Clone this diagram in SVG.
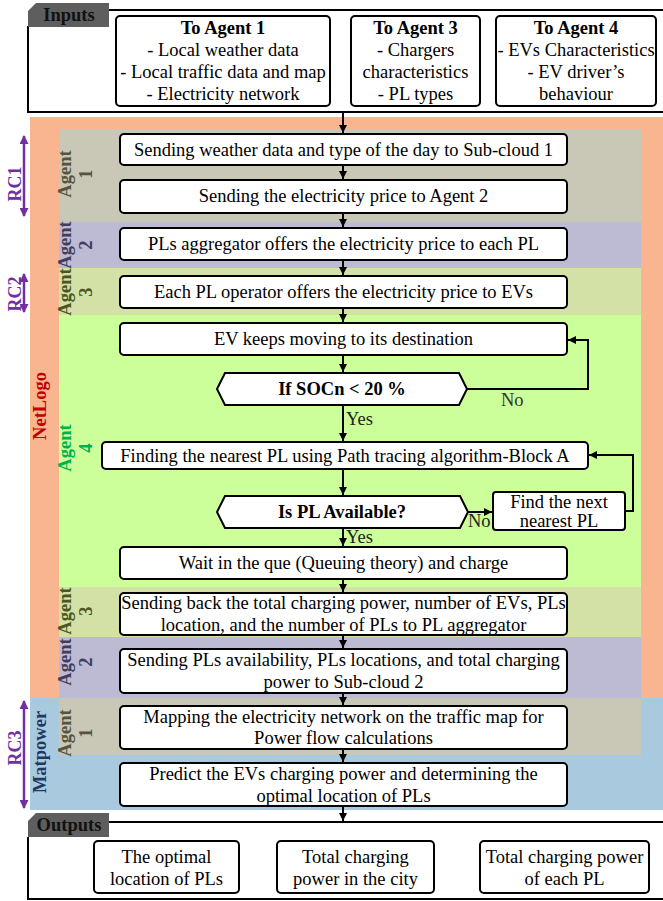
<svg xmlns="http://www.w3.org/2000/svg" width="663" height="901" viewBox="0 0 663 901">
<defs>
<style>
text{font-family:"Liberation Serif","Times New Roman",serif;font-size:18.5px;fill:#000;}
.c{text-anchor:middle;dominant-baseline:central;}
.b{font-weight:bold;}
.box{fill:#fff;stroke:#000;stroke-width:2;}
.frame{fill:none;stroke:#000;stroke-width:2;}
.tab{fill:#5e5e5e;}
.lbl{font-weight:bold;font-size:18.5px;text-anchor:middle;dominant-baseline:central;}
.rc{font-weight:bold;font-size:18px;fill:#7030a0;text-anchor:middle;dominant-baseline:central;}
.rca{stroke:#7030a0;stroke-width:2.5;fill:none;marker-start:url(#pa);marker-end:url(#pa);}
.con{fill:none;stroke:#000;stroke-width:2;marker-end:url(#ah);}
</style>
<marker id="ah" viewBox="0 0 10 10" refX="10" refY="5" markerWidth="4" markerHeight="4" orient="auto" markerUnits="strokeWidth">
<path d="M0,0 L10,5 L0,10 z" fill="#000"/>
</marker>
<marker id="pa" viewBox="0 0 10 10" refX="9" refY="5" markerWidth="4" markerHeight="3.6" orient="auto-start-reverse" markerUnits="strokeWidth">
<path d="M0,0 L10,5 L0,10 z" fill="#7030a0"/>
</marker>
</defs>
<rect x="0" y="0" width="663" height="901" fill="#fff"/>

<g id="regions">
<rect x="30" y="117" width="633" height="581" fill="#f9b58f"/>
<rect x="30" y="698" width="633" height="112" fill="#a9cade"/>
<rect x="59" y="129" width="582" height="93" fill="#c9c7b5"/>
<rect x="59" y="222" width="582" height="46" fill="#bdbad4"/>
<rect x="59" y="268" width="582" height="47" fill="#d3e0a6"/>
<rect x="59" y="315" width="582" height="272" fill="#ccff99"/>
<rect x="59" y="587" width="582" height="50" fill="#d3e0a6"/>
<rect x="59" y="637" width="582" height="61" fill="#bdbad4"/>
<rect x="59" y="698" width="582" height="57" fill="#c9c7b5"/>
</g>

<g id="side-labels">
<line class="rca" x1="24" y1="136" x2="24" y2="216"/>
<text class="rc" transform="translate(15,184) rotate(-90)">RC1</text>
<line class="rca" x1="24" y1="274" x2="24" y2="312"/>
<text class="rc" transform="translate(15,294) rotate(-90)">RC2</text>
<line class="rca" x1="24" y1="701" x2="24" y2="808"/>
<text class="rc" transform="translate(15,748) rotate(-90)">RC3</text>
<text class="lbl" style="fill:#c00000" transform="translate(40,406) rotate(-90)">NetLogo</text>
<text class="lbl" style="fill:#1f3864" transform="translate(40,752) rotate(-90)">Matpower</text>
<g id="agent1a-label" transform="translate(65,174) rotate(-90)"><text class="lbl" style="fill:#55543f">Agent</text><text class="lbl" y="21" style="fill:#55543f">1</text></g>
<g id="agent2a-label" transform="translate(65,245) rotate(-90)"><text class="lbl" style="fill:#413e5c">Agent</text><text class="lbl" y="21" style="fill:#413e5c">2</text></g>
<g id="agent3a-label" transform="translate(65,292) rotate(-90)"><text class="lbl" style="fill:#4b5722">Agent</text><text class="lbl" y="21" style="fill:#4b5722">3</text></g>
<g id="agent4-label" transform="translate(65,448) rotate(-90)"><text class="lbl" style="fill:#00b050">Agent</text><text class="lbl" y="21" style="fill:#00b050">4</text></g>
<g id="agent3b-label" transform="translate(65,611) rotate(-90)"><text class="lbl" style="fill:#4b5722">Agent</text><text class="lbl" y="21" style="fill:#4b5722">3</text></g>
<g id="agent2b-label" transform="translate(65,662) rotate(-90)"><text class="lbl" style="fill:#413e5c">Agent</text><text class="lbl" y="21" style="fill:#413e5c">2</text></g>
<g id="agent1b-label" transform="translate(65,733) rotate(-90)"><text class="lbl" style="fill:#55543f">Agent</text><text class="lbl" y="21" style="fill:#55543f">1</text></g>
</g>

<g id="inputs">
<path class="frame" d="M109,10 H665 M28,26 V112 H665"/>
<path class="tab" d="M36,3 H109 V27 H28 V11 Z"/>
<text class="c b" x="69" y="15" style="fill:#111">Inputs</text>
</g>
<g id="in-agent1">
<rect class="box" x="116" y="16" width="214" height="90" rx="4"/>
<text class="c b" x="223" y="28">To Agent 1</text>
<text class="c" x="223" y="50">- Local weather data</text>
<text class="c" x="223" y="72">- Local traffic data and map</text>
<text class="c" x="223" y="94">- Electricity network</text>
</g>
<g id="in-agent3">
<rect class="box" x="351" y="16" width="129" height="90" rx="4"/>
<text class="c b" x="415.5" y="28">To Agent 3</text>
<text class="c" x="415.5" y="50">- Chargers</text>
<text class="c" x="415.5" y="72">characteristics</text>
<text class="c" x="415.5" y="94">- PL types</text>
</g>
<g id="in-agent4">
<rect class="box" x="496" y="16" width="160" height="90" rx="4"/>
<text class="c b" x="576" y="28">To Agent 4</text>
<text class="c" x="576" y="50">- EVs Characteristics</text>
<text class="c" x="576" y="72">- EV driver’s</text>
<text class="c" x="576" y="94">behaviour</text>
</g>

<g id="n1"><rect class="box" x="120" y="134" width="447" height="31" rx="4"/><text class="c" x="343.5" y="150">Sending weather data and type of the day to Sub-cloud 1</text></g>
<g id="n2"><rect class="box" x="120" y="180" width="447" height="33" rx="4"/><text class="c" x="343.5" y="196">Sending the electricity price to Agent 2</text></g>
<g id="n3"><rect class="box" x="120" y="228" width="447" height="32" rx="4"/><text class="c" x="343.5" y="244">PLs aggregator offers the electricity price to each PL</text></g>
<g id="n4"><rect class="box" x="120" y="276" width="447" height="32" rx="4"/><text class="c" x="343.5" y="292">Each PL operator offers the electricity price to EVs</text></g>
<g id="n5"><rect class="box" x="120" y="323" width="447" height="32" rx="4"/><text class="c" x="343.5" y="339">EV keeps moving to its destination</text></g>
<g id="d1"><path class="box" d="M217,389 L225,373 H459 L467,389 L459,405 H225 Z"/><text class="c b" x="342" y="389">If SOCn &lt; 20 %</text></g>
<g id="n6"><rect class="box" x="102" y="442" width="486" height="27" rx="4"/><text class="c" x="345" y="456">Finding the nearest PL using Path tracing algorithm-Block A</text></g>
<g id="d2"><path class="box" d="M217,512 L225,496 H460 L468,512 L460,528 H225 Z"/><text class="c b" x="342" y="512">Is PL Available?</text></g>
<g id="n7"><rect class="box" x="493" y="492" width="132" height="38" rx="3"/><text class="c" x="559" y="502">Find the next</text><text class="c" x="559" y="521">nearest PL</text></g>
<g id="n8"><rect class="box" x="120" y="547" width="447" height="32" rx="4"/><text class="c" x="343.5" y="563">Wait in the que (Queuing theory) and charge</text></g>
<g id="n9"><rect class="box" x="120" y="593" width="447" height="42" rx="4"/><text class="c" x="343.5" y="603">Sending back the total charging power, number of EVs, PLs</text><text class="c" x="343.5" y="625">location, and the number of PLs to PL aggregator</text></g>
<g id="n10"><rect class="box" x="120" y="649" width="447" height="44" rx="4"/><text class="c" x="343.5" y="660">Sending PLs availability, PLs locations, and total charging</text><text class="c" x="343.5" y="682">power to Sub-cloud 2</text></g>
<g id="n11"><rect class="box" x="120" y="706" width="447" height="43" rx="4"/><text class="c" x="343.5" y="717">Mapping the electricity network on the traffic map for</text><text class="c" x="343.5" y="738">Power flow calculations</text></g>
<g id="n12"><rect class="box" x="120" y="763" width="447" height="43" rx="4"/><text class="c" x="343.5" y="774">Predict the EVs charging power and determining the</text><text class="c" x="343.5" y="796">optimal location of PLs</text></g>

<g id="outputs">
<path class="frame" d="M109,822 H665 M28,837 V899 H665"/>
<path class="tab" d="M36,813 H109 V837 H28 V821 Z"/>
<text class="c b" x="69" y="825" style="fill:#111">Outputs</text>
</g>
<g id="out1"><rect class="box" x="94" y="841" width="145" height="52" rx="4"/><text class="c" x="166.5" y="857">The optimal</text><text class="c" x="166.5" y="879">location of PLs</text></g>
<g id="out2"><rect class="box" x="277" y="841" width="157" height="52" rx="4"/><text class="c" x="355.5" y="857">Total charging</text><text class="c" x="355.5" y="879">power in the city</text></g>
<g id="out3"><rect class="box" x="480" y="841" width="169" height="52" rx="4"/><text class="c" x="564.5" y="857">Total charging power</text><text class="c" x="564.5" y="879">of each PL</text></g>

<g id="connectors">
<line class="con" x1="343" y1="112" x2="343" y2="133"/>
<line class="con" x1="343" y1="165" x2="343" y2="179"/>
<line class="con" x1="343" y1="213" x2="343" y2="227"/>
<line class="con" x1="343" y1="260" x2="343" y2="275"/>
<line class="con" x1="343" y1="308" x2="343" y2="322"/>
<line class="con" x1="343" y1="355" x2="343" y2="372"/>
<line class="con" x1="343" y1="405" x2="343" y2="441"/>
<line class="con" x1="343" y1="469" x2="343" y2="495"/>
<line class="con" x1="343" y1="528" x2="343" y2="546"/>
<line class="con" x1="343" y1="579" x2="343" y2="592"/>
<line class="con" x1="343" y1="635" x2="343" y2="648"/>
<line class="con" x1="343" y1="693" x2="343" y2="705"/>
<line class="con" x1="343" y1="749" x2="343" y2="762"/>
<line class="con" x1="343" y1="806" x2="343" y2="821"/>
<polyline class="con" points="467,389 588,389 588,340 568,340"/>
<line class="con" x1="468" y1="512" x2="492" y2="512"/>
<polyline class="con" points="625,511 633,511 633,455 589,455"/>
<text x="501" y="406" style="fill:#333">No</text>
<text x="468" y="527" style="fill:#222">No</text>
<text x="346" y="425" style="fill:#222">Yes</text>
<text x="346" y="543" style="fill:#222">Yes</text>
</g>
</svg>
